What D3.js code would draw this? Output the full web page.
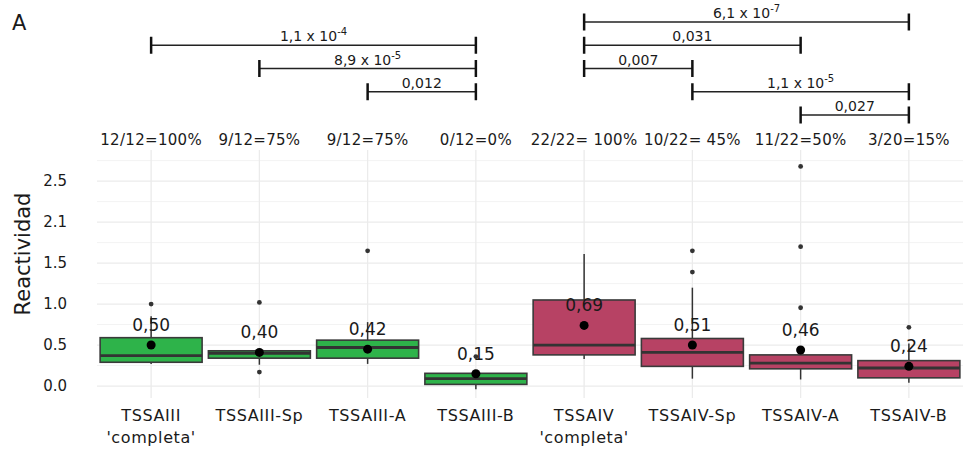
<!DOCTYPE html>
<html>
<head>
<meta charset="utf-8">
<script src="https://cdnjs.cloudflare.com/ajax/libs/d3/7.8.5/d3.min.js"></script>
<style>
  body { margin: 0; background: #fff; }
  text { font-family: "DejaVu Sans", sans-serif; fill: #1a1a1a; }
</style>
</head>
<body>
<svg></svg>
<script>
const width = 963;
const height = 450;

// categories and box statistics
const categories = ["TSSAIII 'completa'", "TSSAIII-Sp", "TSSAIII-A", "TSSAIII-B",
                    "TSSAIV 'completa'", "TSSAIV-Sp", "TSSAIV-A", "TSSAIV-B"];
const groupOf = ["III", "III", "III", "III", "IV", "IV", "IV", "IV"];
const q1 = [0.29, 0.34, 0.34, 0.02, 0.38, 0.24, 0.21, 0.10];
const median = [0.37, 0.40, 0.47, 0.09, 0.50, 0.41, 0.28, 0.22];
const q3 = [0.59, 0.43, 0.56, 0.155, 1.05, 0.58, 0.38, 0.31];
const whiskerLow = [0.27, 0.26, 0.27, -0.04, 0.33, 0.09, 0.08, 0.04];
const whiskerHigh = [0.85, 0.43, 0.78, 0.155, 1.61, 1.20, 0.47, 0.52];
const outliers = [[1.0], [1.02, 0.17], [1.65], [0.36], [], [1.65, 1.39], [2.68, 1.70, 0.955], [0.716]];
const means = [0.50, 0.41, 0.45, 0.15, 0.74, 0.50, 0.44, 0.24];
const meanLabels = ["0,50", "0,40", "0,42", "0,15", "0,69", "0,51", "0,46", "0,24"];
const positivity = ["12/12=100%", "9/12=75%", "9/12=75%", "0/12=0%",
                    "22/22= 100%", "10/22= 45%", "11/22=50%", "3/20=15%"];

// y ticks (the original prints 2.1 at the 2.0 line)
const yTicks = [0, 0.5, 1, 1.5, 2, 2.5];
const yTickLabels = ["0.0", "0.5", "1.0", "1.5", "2.1", "2.5"];

// significance brackets
const bracketFrom = [0, 1, 2, 4, 4, 4, 5, 6];
const bracketTo = [3, 3, 3, 7, 6, 5, 7, 7];
const bracketText = ["1,1 x 10", "8,9 x 10", "0,012", "6,1 x 10", "0,031", "0,007", "1,1 x 10", "0,027"];
const bracketExp = ["-4", "-5", "", "-7", "", "", "-5", ""];
const bracketLevel = [1, 2, 3, 0, 1, 2, 3, 4];

const fillColor = { III: "#2eb34a", IV: "#b74264" };

const svg = d3.select("svg")
    .attr("width", width)
    .attr("height", height);

const panel = { left: 97, right: 963, top: 150, bottom: 398 };

let xScale = d3.scaleBand()
    .domain(categories)
    .range([panel.left, panel.right])
    .paddingInner(0.058)
    .paddingOuter(0.029);
let yScale = d3.scaleLinear()
    .domain([-0.146, 2.88])
    .range([panel.bottom, panel.top]);
let levelScale = d3.scaleLinear()
    .domain([0, 4])
    .range([22, 115]);

const cx = d => xScale(d) + xScale.bandwidth() / 2;

// grid
const minorTicks = d3.range(0, 6).map(i => 0.25 + i * 0.5);
svg.append("g").selectAll("line")
    .data(minorTicks)
    .enter().append("line")
    .attr("x1", panel.left).attr("x2", panel.right)
    .attr("y1", d => yScale(d)).attr("y2", d => yScale(d))
    .attr("stroke", "#f3f3f3").attr("stroke-width", 1);
svg.append("g").selectAll("line")
    .data(yTicks)
    .enter().append("line")
    .attr("x1", panel.left).attr("x2", panel.right)
    .attr("y1", d => yScale(d)).attr("y2", d => yScale(d))
    .attr("stroke", "#ebebeb").attr("stroke-width", 1.3);
svg.append("g").selectAll("line")
    .data(categories)
    .enter().append("line")
    .attr("x1", cx).attr("x2", cx)
    .attr("y1", panel.top).attr("y2", panel.bottom)
    .attr("stroke", "#ebebeb").attr("stroke-width", 1.3);

// y axis
let yAxis = d3.axisLeft(yScale)
    .tickValues(yTicks)
    .tickFormat((d, i) => yTickLabels[i])
    .tickSize(0)
    .tickPadding(0);
let yg = svg.append("g")
    .attr("transform", `translate(67, 0)`)
    .call(yAxis);
yg.select(".domain").remove();
yg.selectAll("text")
    .style("font-family", "DejaVu Sans, sans-serif")
    .style("font-size", "15px")
    .attr("fill", "#333");

svg.append("text")
    .attr("transform", "rotate(-90)")
    .attr("x", -254)
    .attr("y", 30)
    .style("text-anchor", "middle")
    .style("font-size", "21px")
    .text("Reactividad");

// x axis labels
let xl = svg.append("g").selectAll("text")
    .data(categories)
    .enter().append("text")
    .attr("x", cx)
    .attr("y", 421)
    .style("text-anchor", "middle")
    .style("font-size", "16px")
    .style("letter-spacing", "0.6px");
xl.each(function(d) {
    const parts = d.split(" ");
    const t = d3.select(this);
    parts.forEach((p, i) => {
        t.append("tspan")
            .attr("x", cx(d))
            .attr("dy", i === 0 ? 0 : 22)
            .text(p);
    });
});

// boxplots
let boxes = svg.append("g").selectAll("g")
    .data(categories)
    .enter().append("g");

boxes.append("line")
    .attr("x1", cx).attr("x2", cx)
    .attr("y1", (d, i) => yScale(whiskerLow[i]))
    .attr("y2", (d, i) => yScale(q1[i]))
    .attr("stroke", "#333").attr("stroke-width", 1.5);
boxes.append("line")
    .attr("x1", cx).attr("x2", cx)
    .attr("y1", (d, i) => yScale(q3[i]))
    .attr("y2", (d, i) => yScale(whiskerHigh[i]))
    .attr("stroke", "#333").attr("stroke-width", 1.5);
boxes.append("rect")
    .attr("x", d => xScale(d))
    .attr("width", xScale.bandwidth())
    .attr("y", (d, i) => yScale(q3[i]))
    .attr("height", (d, i) => yScale(q1[i]) - yScale(q3[i]))
    .attr("fill", (d, i) => fillColor[groupOf[i]])
    .attr("stroke", "#3a3a3a")
    .attr("stroke-width", 1.6);
boxes.append("line")
    .attr("x1", d => xScale(d)).attr("x2", d => xScale(d) + xScale.bandwidth())
    .attr("y1", (d, i) => yScale(median[i]))
    .attr("y2", (d, i) => yScale(median[i]))
    .attr("stroke", "#333").attr("stroke-width", 2.8);

boxes.each(function(d, i) {
    d3.select(this).selectAll("circle.out")
        .data(outliers[i])
        .enter().append("circle")
        .attr("class", "out")
        .attr("cx", cx(d))
        .attr("cy", v => yScale(v))
        .attr("r", 2.4)
        .attr("fill", "#333");
});

boxes.append("circle")
    .attr("cx", cx)
    .attr("cy", (d, i) => yScale(means[i]))
    .attr("r", 4.5)
    .attr("fill", "#000");

boxes.append("text")
    .attr("x", cx)
    .attr("y", (d, i) => yScale(means[i]) - 14)
    .style("text-anchor", "middle")
    .style("font-size", "17px")
    .text((d, i) => meanLabels[i]);

// positivity labels
svg.append("g").selectAll("text")
    .data(categories)
    .enter().append("text")
    .attr("x", cx)
    .attr("y", 145)
    .style("text-anchor", "middle")
    .style("font-size", "15px")
    .style("letter-spacing", "0.3px")
    .text((d, i) => positivity[i]);

// brackets
let br = svg.append("g").selectAll("g")
    .data(bracketText)
    .enter().append("g");
br.append("line")
    .attr("x1", (d, i) => cx(categories[bracketFrom[i]]))
    .attr("x2", (d, i) => cx(categories[bracketTo[i]]))
    .attr("y1", (d, i) => levelScale(bracketLevel[i]))
    .attr("y2", (d, i) => levelScale(bracketLevel[i]))
    .attr("stroke", "#222").attr("stroke-width", 1.5);
["from", "to"].forEach(end => {
    br.append("line")
        .attr("x1", (d, i) => cx(categories[end === "from" ? bracketFrom[i] : bracketTo[i]]))
        .attr("x2", (d, i) => cx(categories[end === "from" ? bracketFrom[i] : bracketTo[i]]))
        .attr("y1", (d, i) => levelScale(bracketLevel[i]) - 8.5)
        .attr("y2", (d, i) => levelScale(bracketLevel[i]) + 8.5)
        .attr("stroke", "#111").attr("stroke-width", 2.5);
});
br.append("text")
    .attr("x", (d, i) => (cx(categories[bracketFrom[i]]) + cx(categories[bracketTo[i]])) / 2)
    .attr("y", (d, i) => levelScale(bracketLevel[i]) - 4)
    .style("text-anchor", "middle")
    .style("font-size", "14px")
    .each(function(d, i) {
        const t = d3.select(this);
        t.append("tspan").text(d);
        if (bracketExp[i]) {
            t.append("tspan")
                .attr("dy", -6)
                .style("font-size", "10px")
                .text(bracketExp[i]);
        }
    });

svg.append("text")
    .attr("x", 12)
    .attr("y", 30)
    .style("font-size", "21px")
    .text("A");
</script>
</body>
</html>
